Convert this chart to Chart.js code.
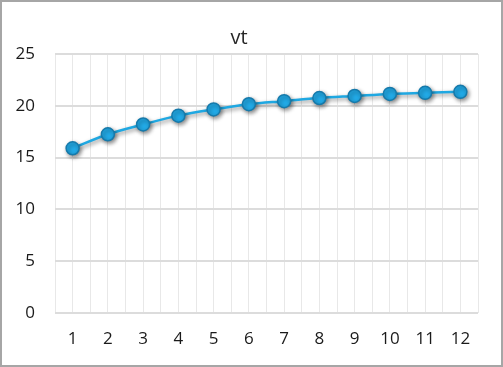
<!DOCTYPE html>
<html><head><meta charset="utf-8">
<script src="https://cdn.jsdelivr.net/npm/chart.js@4/dist/chart.umd.min.js"></script>
<style>html,body{margin:0;padding:0;background:#fff}#wrap{width:503px;height:367px;position:relative}</style>
</head><body><div id="wrap"><canvas id="c" width="503" height="367"></canvas></div>
<script>
const chartTitle = 'vt';
const categories = ['1','2','3','4','5','6','7','8','9','10','11','12'];
const values = [15.9, 17.25, 18.2, 19.05, 19.65, 20.15, 20.45, 20.75, 20.95, 21.15, 21.25, 21.35];
const yTicks = [0, 5, 10, 15, 20, 25];

const points = categories.map((c, i) => ({x: i + 1, y: values[i]}));

const frame = {
  id: 'frame',
  afterDraw(chart) {
    const ctx = chart.ctx;
    ctx.save();
    ctx.strokeStyle = '#a6a6a6';
    ctx.lineWidth = 2;
    ctx.strokeRect(1, 1, chart.width - 2, chart.height - 2);
    ctx.restore();
  }
};
const shadow = {
  id: 'shadow',
  beforeDatasetDraw(chart) {
    const ctx = chart.ctx;
    ctx.save();
    ctx.shadowColor = 'rgba(0,0,0,0.45)';
    ctx.shadowBlur = 4;
    ctx.shadowOffsetX = 1.5;
    ctx.shadowOffsetY = 2;
  },
  afterDatasetDraw(chart) { chart.ctx.restore(); }
};

const FONT = "'Open Sans', 'Liberation Sans', sans-serif";

new Chart(document.getElementById('c'), {
  type: 'line',
  data: {
    datasets: [{
      label: chartTitle,
      data: points,
      borderColor: '#1fa8e2',
      borderWidth: 2.5,
      backgroundColor: '#22abe8',
      pointBackgroundColor: '#22abe8',
      pointBorderColor: '#167aab',
      pointBorderWidth: 1.5,
      pointRadius: 6.5,
      cubicInterpolationMode: 'monotone'
    }]
  },
  options: {
    responsive: false,
    animation: false,
    layout: { padding: { left: 0, right: 25, top: 0, bottom: 0 } },
    plugins: {
      legend: { display: false },
      tooltip: { enabled: false },
      title: {
        display: true, text: chartTitle, color: '#262626',
        font: { family: FONT, size: 20, weight: 'normal' },
        padding: { top: 26, bottom: 4 }
      }
    },
    scales: {
      x: {
        type: 'linear', min: 0.5, max: 12.5,
        afterBuildTicks(scale) {
          const t = [];
          for (let v = 0.5; v <= 12.5001; v += 0.5) t.push({ value: v });
          scale.ticks = t;
        },
        afterFit(scale) { scale.height = 54; },
        ticks: {
          autoSkip: false, maxRotation: 0, padding: 16, color: '#1a1a1a',
          font: { family: FONT, size: 17 },
          callback(v) { return Number.isInteger(v) ? categories[v - 1] : ''; }
        },
        grid: { color: '#e8e8e8', lineWidth: 1, drawTicks: false },
        border: { display: false }
      },
      y: {
        min: 0, max: 25,
        afterBuildTicks(scale) { scale.ticks = yTicks.map(v => ({ value: v })); },
        afterFit(scale) { scale.width = 55; },
        ticks: {
          padding: 20, color: '#1a1a1a',
          font: { family: FONT, size: 17 }
        },
        grid: { color: '#dcdcdc', lineWidth: 2, drawTicks: false },
        border: { display: false }
      }
    }
  },
  plugins: [shadow, frame]
});
</script></body></html>
